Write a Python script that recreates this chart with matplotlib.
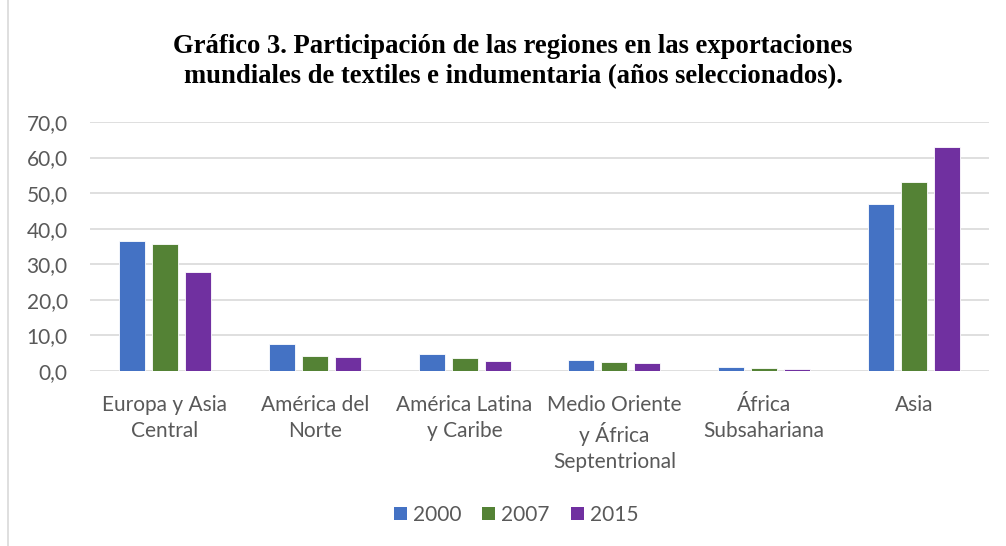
import matplotlib
matplotlib.use("Agg")
import matplotlib.pyplot as plt
import numpy as np
from matplotlib.patches import Patch
from matplotlib.lines import Line2D

categories = ["Europa y Asia\nCentral", "América del\nNorte", "América Latina\ny Caribe",
              "Medio Oriente\ny África\nSeptentrional", "África\nSubsahariana", "Asia"]
years = ["2000", "2007", "2015"]
v2000 = [36.5, 7.5, 4.7, 3.2, 1.1, 47.0]
v2007 = [35.8, 4.3, 3.7, 2.6, 0.8, 53.0]
v2015 = [27.9, 3.8, 2.9, 2.2, 0.6, 62.9]
colors = ["#4472C4", "#548235", "#7030A0"]
yticks = [0, 10, 20, 30, 40, 50, 60, 70]

W, H = 1006, 546
fig = plt.figure(figsize=(W / 100, H / 100), dpi=100)
ax = fig.add_axes([90 / W, 1 - 371 / H, (989 - 90) / W, (371 - 122) / H])

x = np.arange(len(categories))
bw = 26 / 150
off = 33 / 150
for i, (vals, c) in enumerate(zip([v2000, v2007, v2015], colors)):
    ax.bar(x + (i - 1) * off, vals, width=bw, color=c, edgecolor="white",
           linewidth=0.6, zorder=3)

ax.set_xlim(-0.5, len(categories) - 0.5)
ax.set_ylim(0, 70)
ax.set_yticks(yticks)
ax.set_yticklabels([f"{t:.1f}".replace(".", ",") for t in yticks])
ax.set_xticks(x)
ax.set_xticklabels(categories, linespacing=1.38)
for s in ax.spines.values():
    s.set_visible(False)
ax.grid(axis="y", color="#D9D9D9", linewidth=1.2, zorder=0)
ax.tick_params(axis="both", length=0, colors="#595959", labelsize=15)
ax.tick_params(axis="y", pad=16)
ax.tick_params(axis="x", pad=17)
for lab in ax.get_xticklabels() + ax.get_yticklabels():
    lab.set_fontfamily("Lato")
    lab.set_color("#595959")

fig.text(513 / W, 1 - 62 / H, "Gráfico 3. Participación de las regiones en las exportaciones\n"
         "mundiales de textiles e indumentaria (años seleccionados).",
         ha="center", va="center", fontsize=19.2, fontweight="bold",
         family="Liberation Serif", linespacing=1.27)

handles = [Patch(facecolor=c, edgecolor="none") for c in colors]
leg = fig.legend(handles, years, loc="center", bbox_to_anchor=(516 / W, 1 - 515 / H),
                 ncol=3, frameon=False, handlelength=0.62, handleheight=0.62,
                 handletextpad=0.3, columnspacing=1.0,
                 prop={"family": "Lato", "size": 15})
for t in leg.get_texts():
    t.set_color("#595959")

fig.add_artist(Line2D([8 / W, 8 / W], [0, 1], color="#D9D9D9", linewidth=1.2,
                      transform=fig.transFigure))

fig.savefig("out.png", dpi=100)
